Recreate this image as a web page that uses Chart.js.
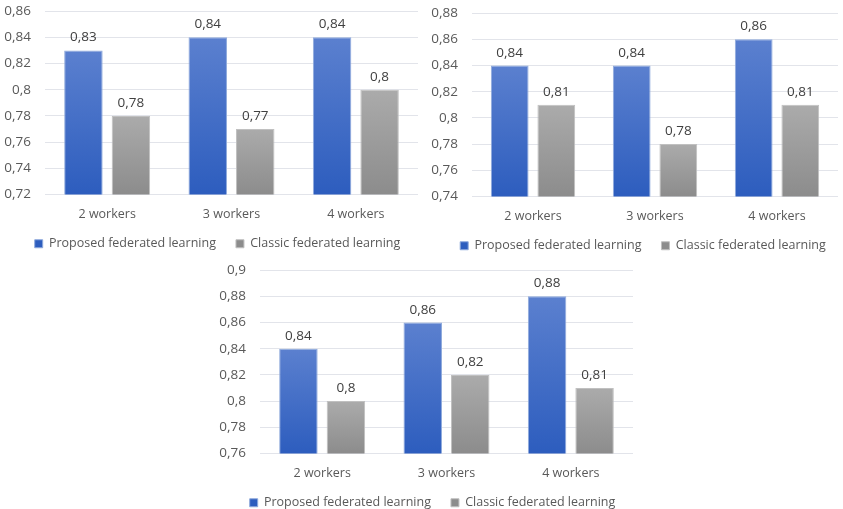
<!DOCTYPE html>
<html>
<head>
<meta charset="utf-8">
<script src="https://cdn.jsdelivr.net/npm/chart.js@4.4.1/dist/chart.umd.min.js"></script>
<style>
  html, body { margin: 0; padding: 0; background: #fff; overflow: hidden; }
  body { width: 843px; height: 509px; position: relative; }
  canvas { position: absolute; }
  #chartA { left: -6px; top: -11px; }
  #chartB { left: 420px; top: -9px; }
  #chartC { left: 205px; top: 248px; }
</style>
</head>
<body>
<canvas id="chartA" width="426" height="278"></canvas>
<canvas id="chartB" width="423" height="278"></canvas>
<canvas id="chartC" width="430" height="278"></canvas>
<script>
const categories = ["2 workers", "3 workers", "4 workers"];
const seriesNames = ["Proposed federated learning", "Classic federated learning"];

const proposedA = [0.83, 0.84, 0.84];
const classicA = [0.78, 0.77, 0.80];
const rangeA = [0.72, 0.86];

const proposedB = [0.84, 0.84, 0.86];
const classicB = [0.81, 0.78, 0.81];
const rangeB = [0.74, 0.88];

const proposedC = [0.84, 0.86, 0.88];
const classicC = [0.80, 0.82, 0.81];
const rangeC = [0.76, 0.90];

const FONT = "'Open Sans', 'Noto Sans', sans-serif";

function comma(v) {
  return String(+v.toFixed(2)).replace(".", ",");
}

// vertical gradient per bar, lighter at the top
function barFill(top, bottom, solid) {
  return function (ctx) {
    const chart = ctx.chart;
    const area = chart.chartArea;
    if (!area || ctx.dataIndex === undefined || ctx.parsed === undefined) return solid;
    const y0 = chart.scales.y.getPixelForValue(ctx.parsed.y);
    const g = chart.ctx.createLinearGradient(0, y0, 0, area.bottom);
    g.addColorStop(0, top);
    g.addColorStop(1, bottom);
    return g;
  };
}

const valueLabels = {
  id: "valueLabels",
  afterDatasetsDraw(chart) {
    const c = chart.ctx;
    c.save();
    c.font = "13.5px " + FONT;
    c.fillStyle = "#404040";
    c.textAlign = "center";
    c.textBaseline = "bottom";
    chart.data.datasets.forEach((ds, i) => {
      chart.getDatasetMeta(i).data.forEach((bar, j) => {
        c.fillText(comma(ds.data[j]), bar.x, bar.y - 6);
      });
    });
    c.restore();
  }
};

// nudge the legend box after layout
const legendOffset = {
  id: "legendOffset",
  afterLayout(chart, args, opts) {
    const l = chart.legend;
    if (!l) return;
    l.left += opts.dx || 0;
    l.right += opts.dx || 0;
    l.top += opts.dy || 0;
    l.bottom += opts.dy || 0;
  }
};

function makeChart(id, proposed, classic, range, padRight, axisWidth, shift) {
  return new Chart(document.getElementById(id), {
    type: "bar",
    data: {
      labels: categories,
      datasets: [{
        label: seriesNames[0],
        data: proposed,
        backgroundColor: barFill("#5B80CF", "#2D5DBE", "#3F6BC6"),
        borderColor: "#8FAADC",
        borderWidth: 1,
        categoryPercentage: 0.764,
        barPercentage: 0.81
      }, {
        label: seriesNames[1],
        data: classic,
        backgroundColor: barFill("#ABABAB", "#8C8C8C", "#9A9A9A"),
        borderColor: "#C0C0C0",
        borderWidth: 1,
        categoryPercentage: 0.764,
        barPercentage: 0.81
      }]
    },
    options: {
      responsive: false,
      devicePixelRatio: 1,
      animation: false,
      layout: { padding: { top: 0, right: padRight, left: 0, bottom: 0 } },
      scales: {
        x: {
          grid: { display: false, drawTicks: false },
          border: { display: false },
          ticks: { color: "#595959", font: { family: FONT, size: 12.5 }, padding: 12 },
          afterFit(s) { s.height = 30; }
        },
        y: {
          min: range[0],
          max: range[1],
          grid: { color: "#E2E4EA", drawTicks: false },
          border: { display: false },
          ticks: {
            stepSize: 0.02,
            autoSkip: false,
            color: "#595959",
            font: { family: FONT, size: 13.5 },
            padding: 14,
            callback: v => comma(v)
          },
          afterFit(s) { s.width = axisWidth; }
        }
      },
      plugins: {
        legend: {
          position: "bottom",
          labels: {
            boxWidth: 8,
            boxHeight: 8,
            padding: 20,
            color: "#595959",
            font: { family: FONT, size: 12.5 }
          }
        },
        legendOffset: { dx: shift[0], dy: shift[1] },
        tooltip: { enabled: false }
      }
    },
    plugins: [valueLabels, legendOffset]
  });
}

makeChart("chartA", proposedA, classicA, rangeA, 2, 51, [11.5, -7]);
makeChart("chartB", proposedB, classicB, rangeB, 5, 52, [14, -7]);
makeChart("chartC", proposedC, classicC, rangeC, 2, 55, [13.5, -7]);
</script>
</body>
</html>
